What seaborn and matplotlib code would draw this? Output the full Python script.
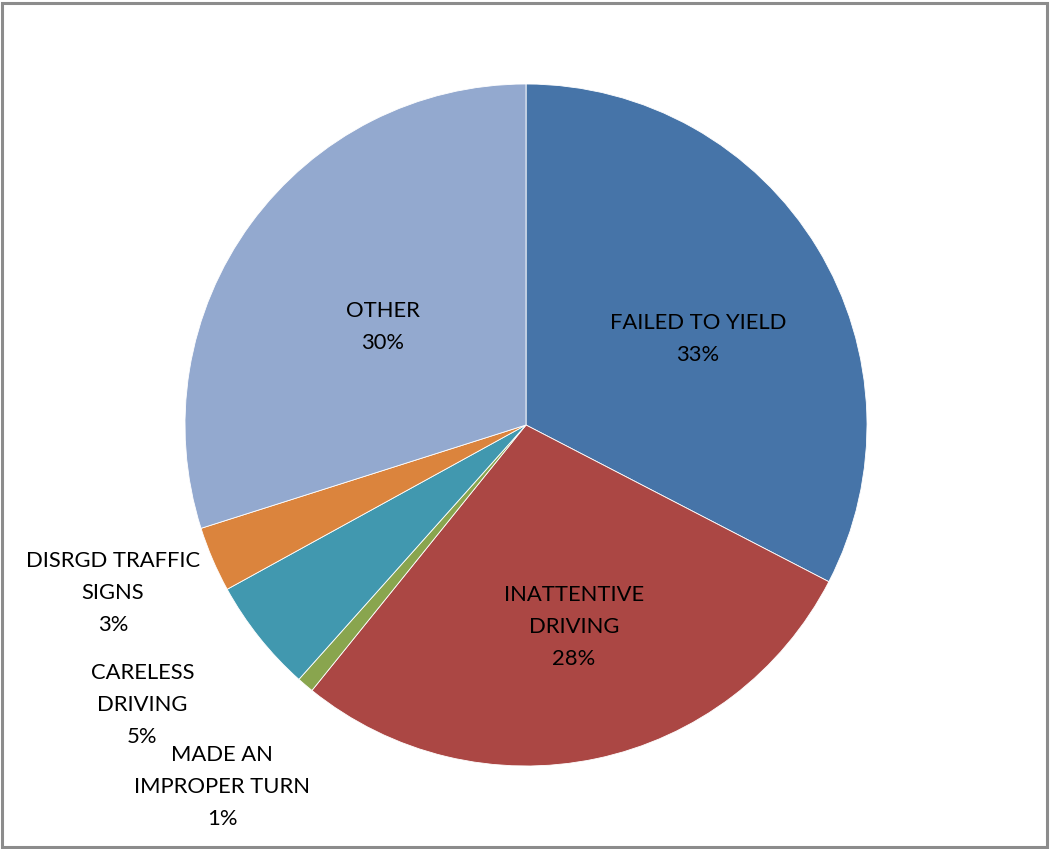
import numpy as np
import matplotlib
matplotlib.use("Agg")
import matplotlib.pyplot as plt
import seaborn as sns

# dados do gráfico (sentido horário a partir do topo)
categories = ["FAILED TO YIELD", "INATTENTIVE\nDRIVING", "MADE AN\nIMPROPER TURN",
              "CARELESS\nDRIVING", "DISRGD TRAFFIC\nSIGNS", "OTHER"]
values = [32.6, 28.2, 0.8, 5.4, 3.1, 29.9]
colors = ["#4674A8", "#AB4744", "#89A54E", "#4198AF", "#DB843D", "#93A9CF"]

# posição dos rótulos: distância (em raios) e desvio angular (graus)
label_dist = [0.564, 0.609, 1.386, 1.393, 1.308, 0.508]
label_shift = [-4.7, 1.5, 0.3, -2.4, -1.1, 1.8]

sns.set_theme(style="white")
plt.rcParams['font.family'] = ['Lato', 'DejaVu Sans']

fig = plt.figure(figsize=(10.5, 8.49), dpi=100)
ax = fig.add_axes([0, 0, 1, 1])
ax.set_axis_off()

palette = sns.color_palette(colors)
wedges, _ = ax.pie(values, colors=palette, startangle=90, counterclock=False,
                   radius=1, center=(0, 0),
                   wedgeprops=dict(edgecolor="white", linewidth=0.6))

total = sum(values)
for w, cat, v, d, s in zip(wedges, categories, values, label_dist, label_shift):
    ang = np.deg2rad((w.theta1 + w.theta2) / 2 + s)
    pct = round(v / total * 100)
    ax.text(d * np.cos(ang), d * np.sin(ang), f"{cat}\n{pct}%",
            ha="center", va="center", multialignment="center",
            fontsize=15.8, color="black", linespacing=1.75)

# escala: raio = 341 px, centro em (526, 425) px
r = 341.0
ax.set_xlim(-526 / r, (1050 - 526) / r)
ax.set_ylim(-(849 - 425) / r, 425 / r)
ax.set_aspect("auto")

# moldura cinza
fig.patches.append(plt.Rectangle((0.0015, 0.0025), 0.9955, 0.9945, transform=fig.transFigure,
                                 fill=False, edgecolor="#8C8C8C", linewidth=2.2))

fig.savefig("out.png", dpi=100)
